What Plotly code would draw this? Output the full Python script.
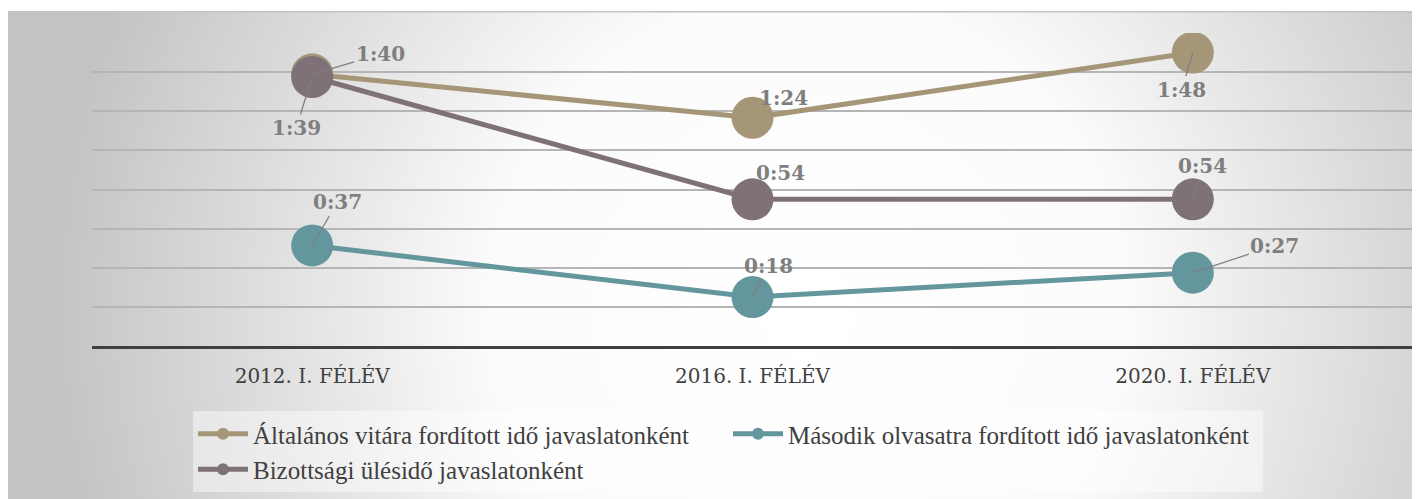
import base64
import plotly.graph_objects as go

# ---- data ----
categories = ["2012. I. FÉLÉV", "2016. I. FÉLÉV", "2020. I. FÉLÉV"]
general_debate_min = [100, 84, 108]      # 1:40, 1:24, 1:48
second_reading_min = [37, 18, 27]        # 0:37, 0:18, 0:27
committee_min = [99, 54, 54]             # 1:39, 0:54, 0:54
series_names = [
    "Általános vitára fordított idő javaslatonként",
    "Második olvasatra fordított idő javaslatonként",
    "Bizottsági ülésidő javaslatonként",
]

colors = ["#A59678", "#64969E", "#7F7178"]

SERIF = "'Liberation Serif', 'Times New Roman', serif"
DSERIF = "'DejaVu Serif', Georgia, serif"


def fmt(m):
    return f"{m // 60}:{m % 60:02d}"


# the page body adds an 8px offset; figure fills the rest of the window
W, H = 1412, 491
ML, MR, MT, MB = 84, 7, 25, 153
pw, ph = W - ML - MR, H - MT - MB

fig = go.Figure()
for name, vals, col, rank in zip(series_names,
                                 [general_debate_min, second_reading_min, committee_min],
                                 colors, [1, 2, 3]):
    fig.add_trace(go.Scatter(
        x=categories, y=vals, name=name, mode="lines+markers",
        line=dict(color=col, width=5),
        marker=dict(color=col, size=42),
        legendrank=rank,
        hoverinfo="skip",
    ))

# label placements (pixel offsets from each point), per series/point
offsets = {
    0: [(68, -20, True), (31, -20, False), (-11, 37, True)],
    1: [(25, -43, True), (16, -31, True), (82, -27, True)],
    2: [(-16, 51, True), (28, -26, False), (10, -33, True)],
}
all_vals = [general_debate_min, second_reading_min, committee_min]
annotations = []
for si, vals in enumerate(all_vals):
    for pi, v in enumerate(vals):
        dx, dy, arrow = offsets[si][pi]
        a = dict(x=categories[pi], y=v, xref="x", yref="y", text=fmt(v),
                 font=dict(family=DSERIF, size=20, color="#7f7f7f", weight="bold"))
        if arrow:
            a.update(showarrow=True, ax=dx, ay=dy, arrowhead=0, arrowwidth=1.3,
                     arrowcolor="#7f7f7f", standoff=0, startstandoff=0)
        else:
            a.update(showarrow=False, xshift=dx, yshift=-dy)
        annotations.append(a)

# background radial gradient (as SVG image)
bx0, by0, bx1, by1 = 0, 3, 1411, 491
bw, bh = bx1 - bx0, by1 - by0
svg = f'''<svg xmlns="http://www.w3.org/2000/svg" width="{bw}" height="{bh}" viewBox="0 0 {bw} {bh}" preserveAspectRatio="none">
<defs><radialGradient id="g" gradientUnits="userSpaceOnUse" cx="800" cy="300" r="760">
<stop offset="0" stop-color="#ffffff"/>
<stop offset="0.42" stop-color="#fbfbfb"/>
<stop offset="1" stop-color="#c3c3c3"/>
</radialGradient></defs>
<rect x="0" y="0" width="{bw}" height="{bh}" fill="url(#g)"/>
<line x1="0" y1="0.75" x2="{bw}" y2="0.75" stroke="#c4c4c4" stroke-width="1.5"/>
</svg>'''
src = "data:image/svg+xml;base64," + base64.b64encode(svg.encode()).decode()

fig.add_layout_image(dict(
    source=src, xref="paper", yref="paper",
    x=(bx0 - ML) / pw, y=(H - MB - by0) / ph,
    sizex=bw / pw, sizey=bh / ph,
    xanchor="left", yanchor="top", sizing="stretch", layer="below",
))

fig.update_layout(
    width=W, height=H,
    margin=dict(l=ML, r=MR, t=MT, b=MB, pad=0),
    paper_bgcolor="white", plot_bgcolor="rgba(0,0,0,0)",
    showlegend=True,
    annotations=annotations,
    legend=dict(
        orientation="h", xref="paper", yref="paper",
        x=(185 - ML) / pw, y=(H - MB - 403) / ph,
        xanchor="left", yanchor="top",
        bgcolor="rgba(255,255,255,0.45)",
        font=dict(family=SERIF, size=25, color="#404040"),
        entrywidth=470, itemwidth=50, itemsizing="constant",
        traceorder="normal",
    ),
    xaxis=dict(
        type="category", range=[-0.5, 2.5], showgrid=False,
        showline=True, linecolor="#404040", linewidth=3,
        ticks="", ticklabelstandoff=10,
        tickfont=dict(family=DSERIF, size=20, color="#404040"),
        fixedrange=True,
    ),
    yaxis=dict(
        range=[0, 115.2], tick0=0, dtick=14.4, showticklabels=False,
        showgrid=True, gridcolor="#b5b5b5", gridwidth=1.5,
        zeroline=False, showline=False, ticks="", fixedrange=True,
    ),
)

fig.write_html("out.html")
